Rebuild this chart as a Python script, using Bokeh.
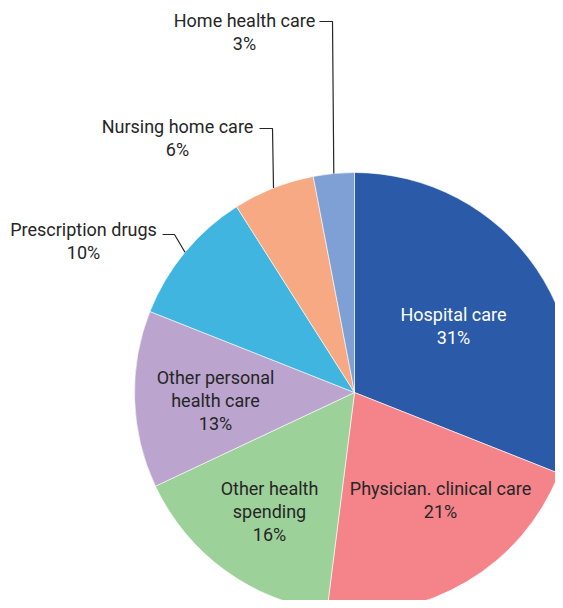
import math
from bokeh.plotting import figure
from bokeh.models import ColumnDataSource, Range1d
from bokeh.core.properties import value
from bokeh.embed import file_html
from bokeh.resources import INLINE

# ---- data ----
categories = ["Hospital care", "Physician. clinical care", "Other health spending",
              "Other personal health care", "Prescription drugs",
              "Nursing home care", "Home health care"]
label_lines = [["Hospital care"], ["Physician. clinical care"], ["Other health", "spending"],
               ["Other personal", "health care"], ["Prescription drugs"],
               ["Nursing home care"], ["Home health care"]]
values = [31, 21, 16, 13, 10, 6, 3]
colors = ["#2B5BA8", "#F4838A", "#9DD19A", "#BBA4CE", "#3FB5DF", "#F6A982", "#7FA0D4"]

# ---- layout (pixel coords of the picture) ----
W, H = 555, 600
def sy(y):
    return H - y

CX, CY, R = 354, 392, 220
FONT = "Roboto"
FS = "18px"
LH = 23
TXT = "#262626"

# label anchors: (center x, first line middle y, color)
label_pos = [(453, 314, "white"), (440, 488, TXT), (269, 488, TXT), (215, 377, TXT),
             (83, 229, TXT), (177, 126, TXT), (244, 20, TXT)]
# leader elbows for outside labels: index -> (start x, elbow x, y)
leaders = {4: (162, 174, 234), 5: (259, 272, 128), 6: (319, 332, 21)}

total = float(sum(values))
starts, ends, mids = [], [], []
cum = 0.0
for v in values:
    a0 = math.pi / 2 - 2 * math.pi * cum / total
    cum += v
    a1 = math.pi / 2 - 2 * math.pi * cum / total
    starts.append(a0)
    ends.append(a1)
    mids.append((a0 + a1) / 2)

src = ColumnDataSource(dict(cat=categories, val=values, color=colors, start=starts, end=ends))

p = figure(width=W, height=H, output_backend="svg", toolbar_location=None,
           x_range=Range1d(0, W), y_range=Range1d(0, H), min_border=0)
p.axis.visible = False
p.grid.visible = False
p.outline_line_color = None
p.background_fill_color = "white"
p.border_fill_color = "white"

p.wedge(x=CX, y=sy(CY), radius=R, start_angle="start", end_angle="end", direction="clock",
        fill_color="color", line_color="white", line_width=0.6, source=src)

# leader lines
for i, (x_start, x_elbow, y) in leaders.items():
    ex = CX + R * math.cos(mids[i])
    ey = sy(CY) + R * math.sin(mids[i])
    p.line([x_start, x_elbow, ex], [sy(y), sy(y), ey], line_color="#262626", line_width=1.2)

# labels
tx, ty, tt, tc = [], [], [], []
for lines, v, (x, y, c) in zip(label_lines, values, label_pos):
    for k, s in enumerate(lines + [f"{v}%"]):
        tx.append(x)
        ty.append(sy(y + k * LH))
        tt.append(s)
        tc.append(c)
p.text(x=tx, y=ty, text=tt, text_color=tc, text_align="center", text_baseline="middle",
       text_font=value(FONT), text_font_size=FS)

open("out.html", "w").write(file_html(p, INLINE))
